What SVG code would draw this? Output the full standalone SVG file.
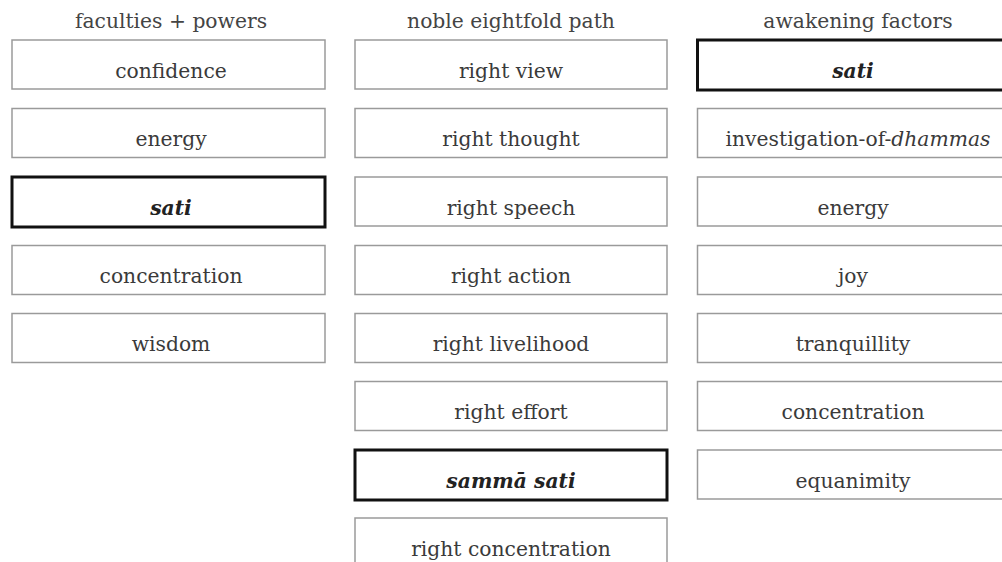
<svg xmlns="http://www.w3.org/2000/svg" width="1002" height="562" viewBox="0 0 1002 562">
<style>
text{font-family:"DejaVu Serif","Liberation Serif",serif;font-size:20.3px;fill:#3a3a3a;text-anchor:middle}
.b{fill:#fff;stroke:#9a9a9a;stroke-width:1.5}
.k{fill:#fff;stroke:#111;stroke-width:3}
.i{font-style:italic;font-weight:bold;fill:#222}
.h{fill:#444}
</style>
<rect width="1002" height="562" fill="#fff"/>
<g id="headers">
<text class="h" x="171" y="28">faculties + powers</text>
<text class="h" x="511" y="28">noble eightfold path</text>
<text class="h" x="858" y="28">awakening factors</text>
</g>
<g id="col1">
<g id="f1"><rect class="b" x="12" y="40" width="313" height="49"/><text x="171" y="78">confidence</text></g>
<g id="f2"><rect class="b" x="12" y="108.5" width="313" height="49"/><text x="171" y="146">energy</text></g>
<g id="f3"><rect class="k" x="12" y="177" width="313" height="50"/><text class="i" x="171" y="215">sati</text></g>
<g id="f4"><rect class="b" x="12" y="245.5" width="313" height="49"/><text x="171" y="283">concentration</text></g>
<g id="f5"><rect class="b" x="12" y="313.5" width="313" height="49"/><text x="171" y="351">wisdom</text></g>
</g>
<g id="col2">
<g id="p1"><rect class="b" x="355" y="40" width="312" height="49"/><text x="511" y="78">right view</text></g>
<g id="p2"><rect class="b" x="355" y="108.5" width="312" height="49"/><text x="511" y="146">right thought</text></g>
<g id="p3"><rect class="b" x="355" y="177" width="312" height="49"/><text x="511" y="215">right speech</text></g>
<g id="p4"><rect class="b" x="355" y="245.5" width="312" height="49"/><text x="511" y="283">right action</text></g>
<g id="p5"><rect class="b" x="355" y="313.5" width="312" height="49"/><text x="511" y="351">right livelihood</text></g>
<g id="p6"><rect class="b" x="355" y="381.5" width="312" height="49"/><text x="511" y="419">right effort</text></g>
<g id="p7"><rect class="k" x="355" y="450" width="312" height="50"/><text class="i" x="511" y="488">sammā sati</text></g>
<g id="p8"><rect class="b" x="355" y="518" width="312" height="49"/><text x="511" y="556">right concentration</text></g>
</g>
<g id="col3">
<g id="a1"><rect class="k" x="697.5" y="40" width="313" height="50"/><text class="i" x="853" y="78">sati</text></g>
<g id="a2"><rect class="b" x="697.5" y="108.5" width="313" height="49"/><text x="858" y="146">investigation-of-<tspan font-style="italic">dhammas</tspan></text></g>
<g id="a3"><rect class="b" x="697.5" y="177" width="313" height="49"/><text x="853" y="215">energy</text></g>
<g id="a4"><rect class="b" x="697.5" y="245.5" width="313" height="49"/><text x="853" y="283">joy</text></g>
<g id="a5"><rect class="b" x="697.5" y="313.5" width="313" height="49"/><text x="853" y="351">tranquillity</text></g>
<g id="a6"><rect class="b" x="697.5" y="381.5" width="313" height="49"/><text x="853" y="419">concentration</text></g>
<g id="a7"><rect class="b" x="697.5" y="450" width="313" height="49"/><text x="853" y="488">equanimity</text></g>
</g>
<g id="connectors"/>
</svg>
